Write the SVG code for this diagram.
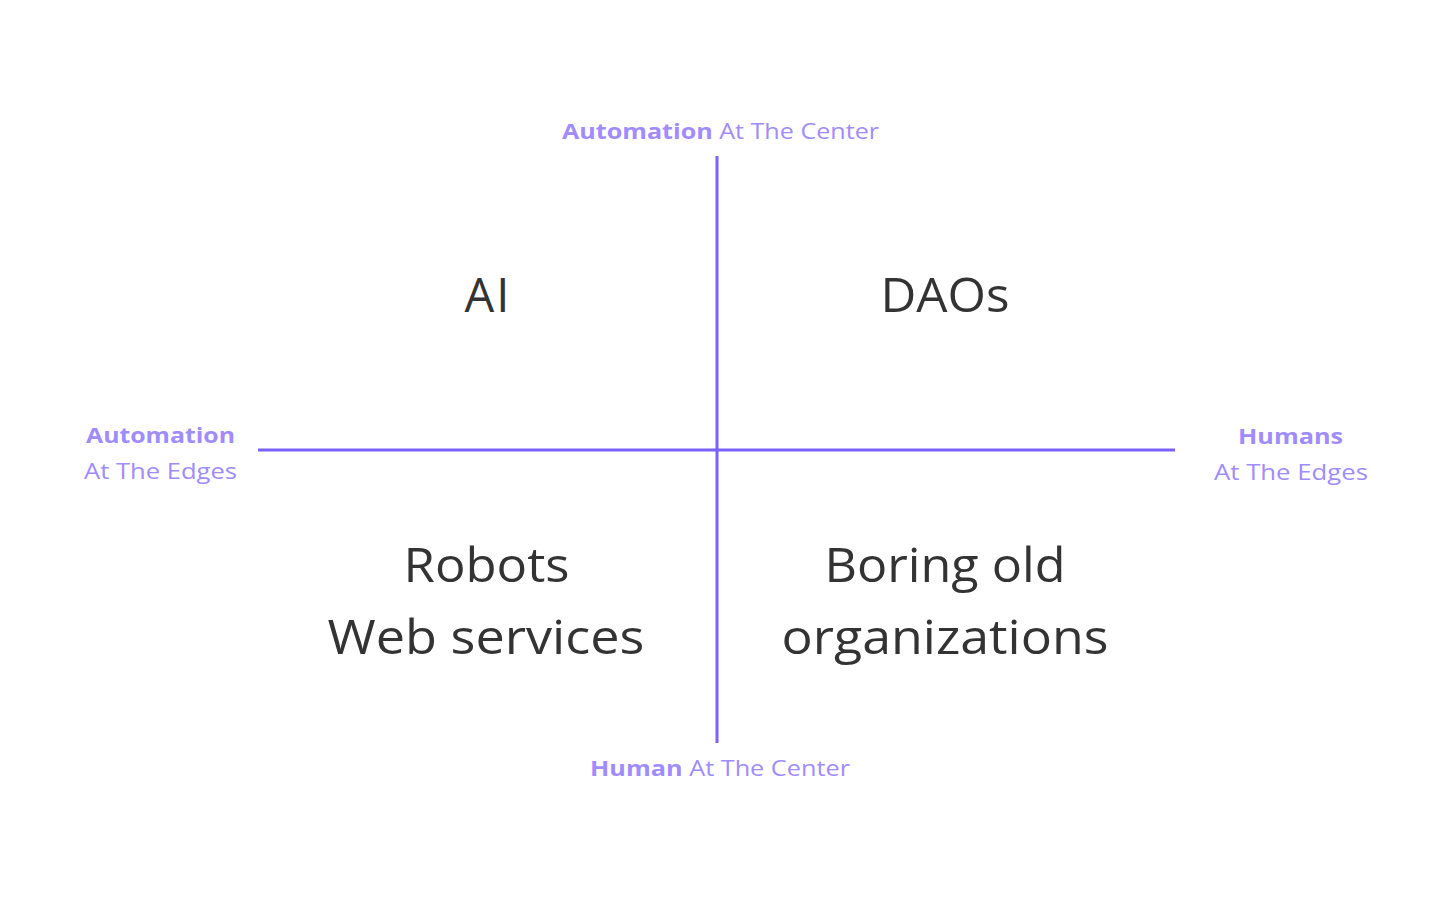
<svg xmlns="http://www.w3.org/2000/svg" width="1440" height="900" viewBox="0 0 1440 900">
<style>
.axis{stroke:#7b61ff;stroke-width:3;fill:none}
.lbl{font-family:"Open Sans","Noto Sans",sans-serif;font-size:22px;fill:#a08cff;text-anchor:middle}
.b{font-weight:700}
.q{font-family:"Open Sans","Noto Sans",sans-serif;font-size:47px;fill:#333333;text-anchor:middle}
</style>
<rect width="1440" height="900" fill="#ffffff"/>
<g id="connectors">
<line class="axis" x1="717" y1="156" x2="717" y2="743"/>
<line class="axis" x1="258" y1="450" x2="1175" y2="450"/>
</g>
<g id="top-label"><text class="lbl" x="720.5" y="139" textLength="317" lengthAdjust="spacingAndGlyphs"><tspan class="b">Automation</tspan> At The Center</text></g>
<g id="bottom-label"><text class="lbl" x="720" y="776" textLength="260" lengthAdjust="spacingAndGlyphs"><tspan class="b">Human</tspan> At The Center</text></g>
<g id="left-label"><text class="lbl b" x="160.5" y="443" textLength="149" lengthAdjust="spacingAndGlyphs">Automation</text><text class="lbl" x="160.5" y="479" textLength="153" lengthAdjust="spacingAndGlyphs">At The Edges</text></g>
<g id="right-label"><text class="lbl b" x="1290.5" y="444" textLength="105" lengthAdjust="spacingAndGlyphs">Humans</text><text class="lbl" x="1291" y="480" textLength="154" lengthAdjust="spacingAndGlyphs">At The Edges</text></g>
<g id="q-ai"><text class="q" x="487" y="312">A<tspan dx="2">I</tspan></text></g>
<g id="q-daos"><text class="q" x="945" y="312" textLength="129" lengthAdjust="spacingAndGlyphs">DAOs</text></g>
<g id="q-robots"><text class="q" x="486.5" y="582" textLength="166" lengthAdjust="spacingAndGlyphs">Robots</text><text class="q" x="486" y="654" textLength="317" lengthAdjust="spacingAndGlyphs">Web services</text></g>
<g id="q-boring"><text class="q" x="945" y="582" textLength="241" lengthAdjust="spacingAndGlyphs">Boring old</text><text class="q" x="945" y="654" textLength="327" lengthAdjust="spacingAndGlyphs">organizations</text></g>
</svg>
